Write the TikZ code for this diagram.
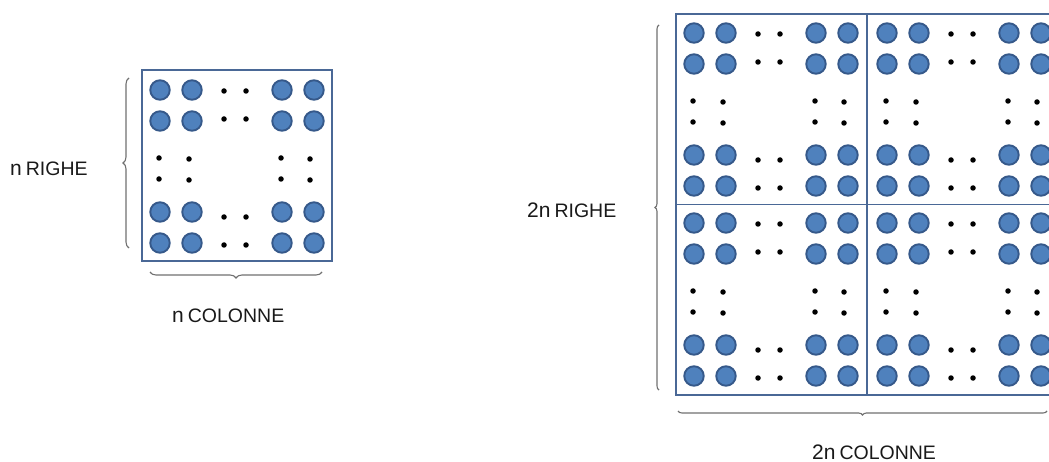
\documentclass[tikz,border=0pt]{standalone}
\usepackage{fontspec}
\setmainfont{Liberation Sans}
\usetikzlibrary{decorations.pathreplacing}
\definecolor{ballfill}{HTML}{4F81BD}
\definecolor{ballline}{HTML}{36598A}
\definecolor{framecol}{HTML}{4A6896}
\definecolor{bracecol}{HTML}{707070}
\tikzset{
 ball/.style={circle, fill=ballfill, draw=ballline, line width=1.9pt, minimum size=19.5pt, inner sep=0pt},
 dotn/.style={circle, fill=black, minimum size=5.5pt, inner sep=0pt},
 box/.style={draw=framecol, line width=1.5pt, inner sep=0pt},
 brc/.style={draw=bracecol, line width=1.1pt, decorate, decoration={brace, amplitude=#1}},
 brc/.default=6pt,
 lab/.style={anchor=base west, inner sep=0pt, text=black!90}
}
\newcommand{\myblock}[3]{%
 \foreach \cx [count=\i] in {0,32,122,154}{
  \foreach \cy [count=\j] in {0,31,122,153}{
   \node[ball] (#1-b\j\i) at (#2+\cx,#3+\cy) {};
  }}
 \foreach \dx [count=\i] in {64,86}{
  \foreach \dy [count=\j] in {1,29,127,155}{
   \node[dotn] (#1-h\j\i) at (#2+\dx,#3+\dy) {};
  }}
 \foreach \dx/\o [count=\i] in {-1/0,29/1,121/0,150/1}{
  \foreach \dy [count=\j] in {68,89}{
   \node[dotn] (#1-v\j\i) at (#2+\dx,#3+\dy+\o) {};
  }}
}
\begin{document}
\begin{tikzpicture}[x=1pt,y=-1pt]
\useasboundingbox (0,0) rectangle (1049,462);
\clip (0,0) rectangle (1049,462);
% small matrix
\node[box, minimum width=190pt, minimum height=191pt] (sbox) at (237,165.5) {};
\myblock{s}{160}{90}
\coordinate (slb1) at (129,248);
\coordinate (slb2) at (129,78);
\draw[brc] (slb1) -- (slb2);
\coordinate (sbb1) at (322,272);
\coordinate (sbb2) at (150,272);
\draw[brc] (sbb1) -- (sbb2);
\node[lab] (sl1) at (10,176) {{\fontsize{21}{21}\selectfont n}\hspace{4pt}{\fontsize{19.5}{19.5}\selectfont RIGHE}};
\node[lab] (sl2) at (172,322) {{\fontsize{21}{21}\selectfont n}\hspace{4pt}{\fontsize{19.5}{19.5}\selectfont COLONNE}};
% big matrix
\node[box, minimum width=382pt, minimum height=381pt] (bbox) at (867,204.5) {};
\draw[box] (bbox.north) -- (bbox.south);
\draw[box] (bbox.west) -- (bbox.east);
\myblock{q1}{694}{33}
\myblock{q2}{887}{33}
\myblock{q3}{694}{223}
\myblock{q4}{887}{223}
\coordinate (blb1) at (659,390);
\coordinate (blb2) at (659,25);
\draw[brc=4pt] (blb1) -- (blb2);
\coordinate (bbb1) at (1047,411);
\coordinate (bbb2) at (678,411);
\draw[brc=4pt] (bbb1) -- (bbb2);
\node[lab] (bl1) at (527,218) {{\fontsize{21}{21}\selectfont 2n}\hspace{4pt}{\fontsize{19.5}{19.5}\selectfont RIGHE}};
\node[lab] (bl2) at (812,459) {{\fontsize{21}{21}\selectfont 2n}\hspace{4pt}{\fontsize{19.5}{19.5}\selectfont COLONNE}};
\end{tikzpicture}
\end{document}
